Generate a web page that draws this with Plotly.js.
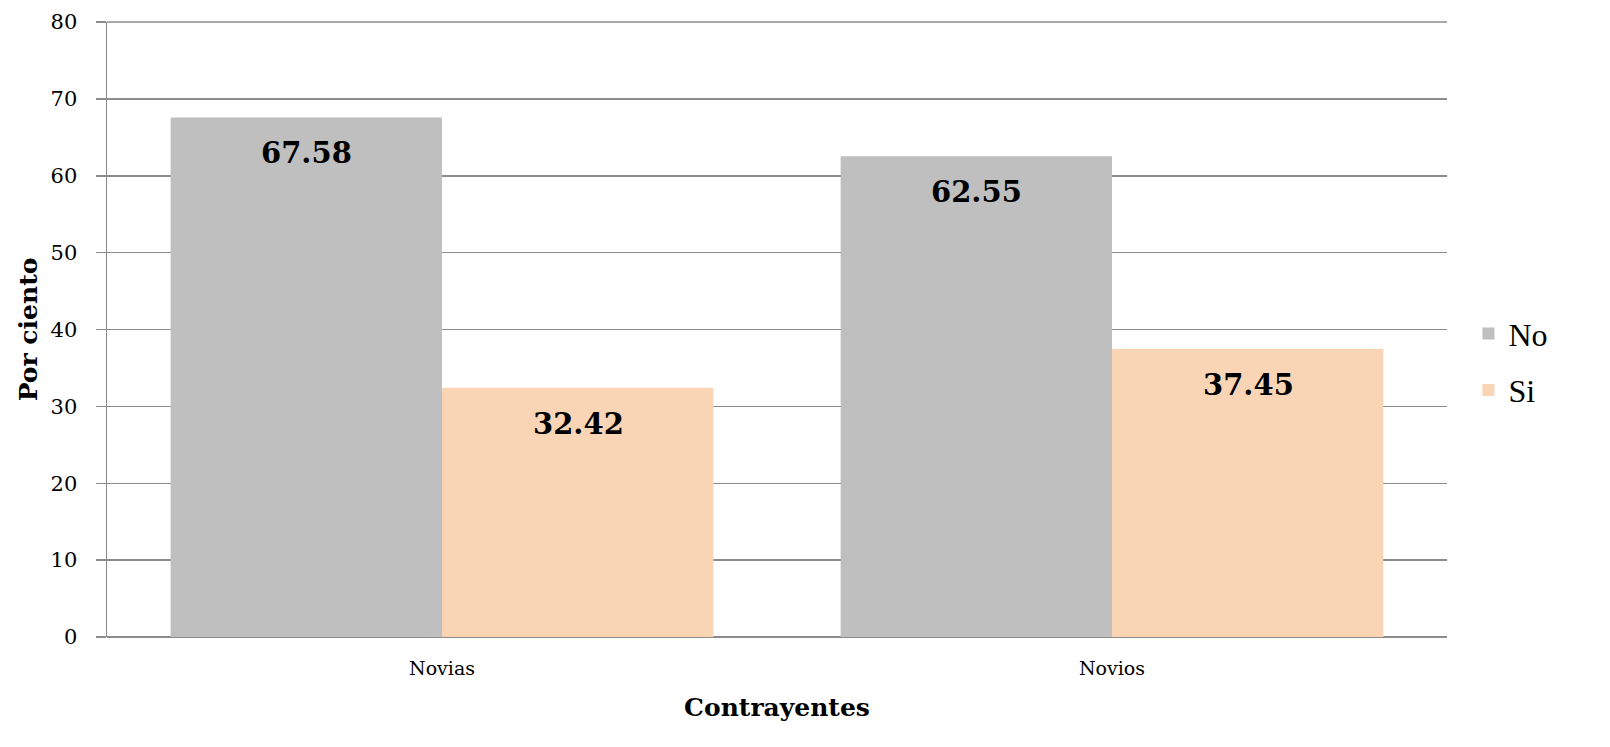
<!DOCTYPE html>
<html><head><meta charset="utf-8">
<script src="https://cdn.plot.ly/plotly-3.0.1.min.js"></script>
<style>html,body{margin:0;padding:0;background:#fff}#chart{width:1610px;height:747px}</style>
</head><body><div id="chart"></div>
<script>
const categories = ["Novias", "Novios"];
const seriesNames = ["No", "Si"];
const valuesNo = [67.58, 62.55];
const valuesSi = [32.42, 37.45];
const colors = ["#bfbfbf", "#fad5b5"];
const yTicks = [0, 10, 20, 30, 40, 50, 60, 70, 80];

const serif = "DejaVu Serif, Liberation Serif, serif";
const traces = [valuesNo, valuesSi].map((vals, i) => ({
  type: "bar", name: seriesNames[i], x: categories, y: vals,
  marker: {color: colors[i], line: {width: 0}},
  legendgroup: "g" + i, hoverinfo: "none"
}));

const annotations = [];
[valuesNo, valuesSi].forEach((vals, i) => {
  vals.forEach((v, j) => {
    annotations.push({
      x: categories[j], y: v, xref: "x", yref: "y",
      xshift: (i === 0 ? -1 : 1) * 136,
      yanchor: "top", yshift: -17, showarrow: false,
      text: "<b>" + v.toFixed(2) + "</b>",
      font: {family: serif, size: 29, color: "#000"}
    });
  });
});

const yMax = yTicks[yTicks.length - 1];
const layout = {
  width: 1610, height: 747,
  margin: {l: 107, r: 163, t: 22, b: 110},
  paper_bgcolor: "#fff", plot_bgcolor: "#fff",
  barmode: "group", bargap: 0.19, bargroupgap: 0,
  font: {family: serif, color: "#000"},
  xaxis: {
    type: "category", showgrid: false, zeroline: false,
    showline: false, ticks: "", tickfont: {family: serif, size: 19},
    ticklabelstandoff: 18,
    title: {text: "<b>Contrayentes</b>", font: {family: serif, size: 25}, standoff: 20}
  },
  yaxis: {
    range: [0, yMax], tickvals: yTicks, ticktext: yTicks.map(String),
    showgrid: true, gridcolor: "#8c8c8c", gridwidth: 1.5,
    zeroline: true, zerolinecolor: "#8c8c8c", zerolinewidth: 1.5,
    showline: true, linecolor: "#8c8c8c", linewidth: 1.5,
    ticks: "outside", ticklen: 10, tickcolor: "#8c8c8c", tickwidth: 1.5,
    tickfont: {family: serif, size: 21}, ticklabelstandoff: 14,
    title: {text: "<b>Por ciento</b>", font: {family: serif, size: 25}, standoff: 6}
  },
  shapes: [{
    type: "line", xref: "paper", x0: 0, x1: 1, yref: "paper", y0: 1, y1: 1,
    line: {color: "#8c8c8c", width: 1.5}, layer: "below"
  }],
  legend: {
    x: 1.016, y: 0.447, xanchor: "left", yanchor: "middle",
    font: {family: "Liberation Serif, serif", size: 32},
    tracegroupgap: 12, itemwidth: 30, bgcolor: "rgba(0,0,0,0)"
  },
  annotations: annotations
};

Plotly.newPlot("chart", traces, layout, {displayModeBar: false, staticPlot: true});
</script></body></html>
